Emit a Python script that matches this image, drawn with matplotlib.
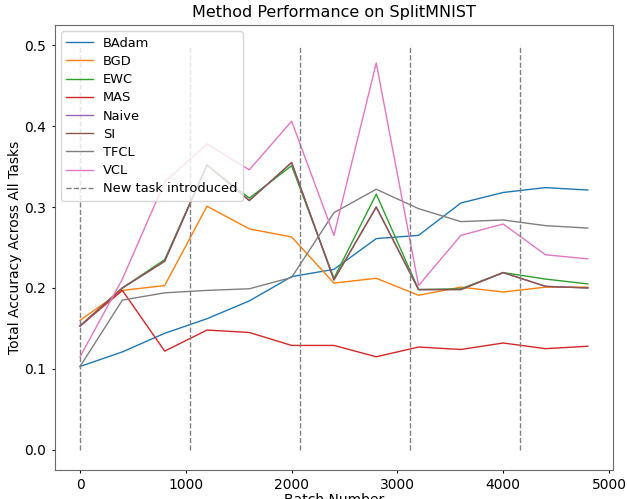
#!/usr/bin/env python3

import matplotlib
matplotlib.use("Agg")
import matplotlib.pyplot as plt

# batch numbers at which accuracy was evaluated
batches = [0, 400, 800, 1200, 1600, 2000, 2400, 2800, 3200, 3600, 4000, 4400, 4800]
task_starts = [0, 1040, 2080, 3120, 4160]

badam = [0.103, 0.121, 0.144, 0.162, 0.184, 0.214, 0.223, 0.261, 0.265, 0.305, 0.318, 0.324, 0.321]
bgd = [0.160, 0.197, 0.203, 0.301, 0.273, 0.263, 0.206, 0.212, 0.191, 0.201, 0.195, 0.201, 0.201]
ewc = [0.153, 0.200, 0.235, 0.352, 0.311, 0.351, 0.212, 0.316, 0.198, 0.199, 0.219, 0.211, 0.205]
mas = [0.153, 0.197, 0.122, 0.148, 0.145, 0.129, 0.129, 0.115, 0.127, 0.124, 0.132, 0.125, 0.128]
naive = [0.153, 0.200, 0.233, 0.352, 0.308, 0.355, 0.210, 0.300, 0.198, 0.198, 0.219, 0.202, 0.200]
si = [0.153, 0.200, 0.233, 0.352, 0.308, 0.355, 0.210, 0.300, 0.198, 0.198, 0.219, 0.202, 0.200]
tfcl = [0.103, 0.185, 0.194, 0.197, 0.199, 0.213, 0.293, 0.322, 0.298, 0.282, 0.284, 0.277, 0.274]
vcl = [0.115, 0.211, 0.331, 0.378, 0.346, 0.406, 0.265, 0.478, 0.203, 0.265, 0.279, 0.241, 0.236]

methods = ["BAdam", "BGD", "EWC", "MAS", "Naive", "SI", "TFCL", "VCL"]
series = [badam, bgd, ewc, mas, naive, si, tfcl, vcl]
colors = ["tab:blue", "tab:orange", "tab:green", "tab:red",
          "tab:purple", "tab:brown", "tab:gray", "tab:pink"]


def main():
    fig, ax = plt.subplots(figsize=(6.27, 4.99), dpi=100)
    fig.subplots_adjust(left=0.0872, right=0.978, top=0.95, bottom=0.058)

    for name, vals, c in zip(methods, series, colors):
        ax.plot(batches, vals, color=c, linewidth=1.0, label=name)

    ax.vlines(task_starts, 0, 0.5, colors="gray", linestyles="--",
              linewidth=1.0, label="New task introduced")

    ax.set_title("Method Performance on SplitMNIST", fontsize=11.5)
    ax.set_xlabel("Batch Number", labelpad=0.5)
    ax.set_ylabel("Total Accuracy Across All Tasks", labelpad=2)
    ax.tick_params(length=2.5)
    for sp in ax.spines.values():
        sp.set_color("dimgray")
    ax.legend(loc="upper left", fontsize=9.4, labelspacing=0.4)

    fig.savefig("out.png")
    plt.close(fig)


if __name__ == "__main__":
    main()
